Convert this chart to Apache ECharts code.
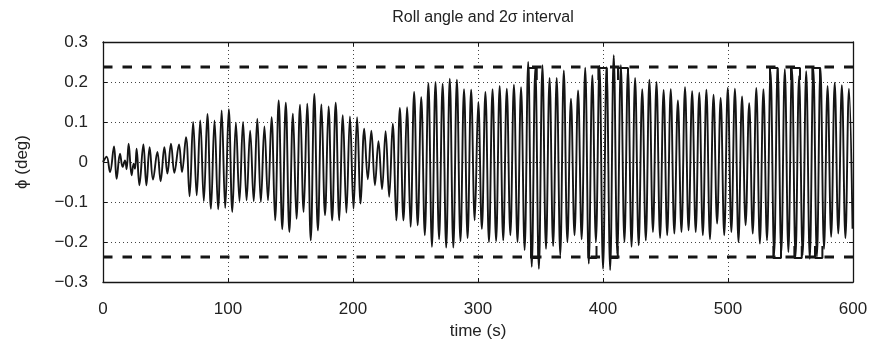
<!DOCTYPE html>
<html>
<head>
<meta charset="utf-8">
<script src="https://cdn.jsdelivr.net/npm/echarts@6/dist/echarts.min.js"></script>
<style>
  html, body { margin: 0; padding: 0; background: #fff; }
  #chart { width: 874px; height: 351px; }
</style>
</head>
<body>
<div id="chart"></div>
<script>
// start-up wiggles (time, value)
const earlyT = [0, 2.9, 5.6, 8.8, 10.9, 13.6, 15.7, 17.6, 18.9, 20.5, 22.9, 24.5, 25.6, 26.9, 29.1,
  32.3, 34.7, 37.3, 40.0, 43.5, 46.1, 49.1, 51.5, 54.4, 57.1, 60.8, 63.2];
const earlyV = [0, 0.013, -0.025, 0.039, -0.042, 0.021, -0.012, 0.004, -0.018, 0.046, -0.033, -0.004, -0.017, 0.033, -0.058,
  0.044, -0.058, 0.037, -0.044, 0.025, -0.048, 0.037, -0.029, 0.046, -0.027, 0.044, -0.025];

// regular roll oscillation: one peak and one trough per period
const firstPeak = 66.4;
const period = 5.703;
const peaks = [
  0.062, 0.100, 0.104, 0.120, 0.104, 0.129, 0.132, 0.098, 0.100, 0.078,
  0.108, 0.089, 0.112, 0.154, 0.148, 0.121, 0.143, 0.146, 0.170, 0.144,
  0.139, 0.148, 0.117, 0.114, 0.112, 0.083, 0.078, 0.052, 0.077, 0.096,
  0.135, 0.137, 0.175, 0.162, 0.197, 0.200, 0.196, 0.208, 0.206, 0.182,
  0.181, 0.150, 0.175, 0.182, 0.190, 0.183, 0.193, 0.187, 0.250, 0.237,
  0.242, 0.210, 0.210, 0.229, 0.158, 0.179, 0.236, 0.217, 0.240, 0.237,
  0.267, 0.242, 0.233, 0.210, 0.182, 0.206, 0.200, 0.180, 0.182, 0.154,
  0.187, 0.177, 0.173, 0.181, 0.168, 0.160, 0.185, 0.183, 0.164, 0.147,
  0.185, 0.182, 0.227, 0.236, 0.232, 0.235, 0.215, 0.227, 0.235, 0.235,
  0.190, 0.198, 0.192, 0.183
];
const troughs = [
  -0.086, -0.083, -0.098, -0.117, -0.118, -0.115, -0.125, -0.098, -0.096, -0.098,
  -0.100, -0.096, -0.146, -0.168, -0.175, -0.142, -0.125, -0.196, -0.171, -0.133,
  -0.146, -0.146, -0.127, -0.117, -0.104, -0.043, -0.058, -0.068, -0.087, -0.146,
  -0.146, -0.162, -0.158, -0.183, -0.212, -0.193, -0.214, -0.214, -0.198, -0.190,
  -0.146, -0.167, -0.200, -0.198, -0.196, -0.183, -0.200, -0.220, -0.262, -0.267,
  -0.217, -0.210, -0.233, -0.200, -0.183, -0.193, -0.254, -0.200, -0.267, -0.270,
  -0.229, -0.200, -0.212, -0.208, -0.196, -0.175, -0.190, -0.183, -0.179, -0.175,
  -0.171, -0.175, -0.183, -0.193, -0.154, -0.183, -0.175, -0.200, -0.158, -0.179,
  -0.204, -0.196, -0.233, -0.229, -0.225, -0.237, -0.233, -0.242, -0.237, -0.217,
  -0.187, -0.179, -0.190, -0.167
];

// 2 sigma bound
const sigma2 = 0.2375;

// saturation brackets [start, end] in seconds
const clipTop = [[340.3, 347.0], [396.3, 403.0], [412.0, 420.0], [533.6, 539.7], [550.4, 557.6], [567.5, 573.6]];
const clipBottom = [[342.4, 348.3], [388.3, 394.8], [405.6, 411.8], [536.3, 542.4], [553.1, 559.0], [569.6, 575.5]];
const clipTopLevel = 0.235;
const clipBottomLevel = -0.24;

const signal = earlyT.map((t, i) => [t, earlyV[i]]);
peaks.forEach((p, k) => {
  const t = firstPeak + k * period;
  signal.push([t, p]);
  signal.push([t + period / 2, troughs[k]]);
});

const black = '#151515';
const font = '"Liberation Sans", Arial, Helvetica, sans-serif';

const bracketSeries = [];
clipTop.forEach(([a, b]) => bracketSeries.push({
  type: 'line', symbol: 'none', silent: true, z: 4,
  lineStyle: {color: black, width: 2},
  data: [[a, clipTopLevel - 0.03], [a, clipTopLevel], [b, clipTopLevel], [b, clipTopLevel - 0.03]]
}));
clipBottom.forEach(([a, b]) => bracketSeries.push({
  type: 'line', symbol: 'none', silent: true, z: 4,
  lineStyle: {color: black, width: 2},
  data: [[a, clipBottomLevel + 0.03], [a, clipBottomLevel], [b, clipBottomLevel], [b, clipBottomLevel + 0.03]]
}));

const myChart = echarts.init(document.getElementById('chart'), null, {renderer: 'canvas'});
myChart.setOption({
  animation: false,
  backgroundColor: '#fff',
  title: {
    text: 'Roll angle and 2σ interval',
    left: 478, top: 5, textAlign: 'center',
    textStyle: {fontFamily: font, fontSize: 16, fontWeight: 'normal', color: '#222'}
  },
  grid: {left: 103, right: 21, top: 42, bottom: 69},
  xAxis: [
    {
      type: 'value', min: 0, max: 600, interval: 100,
      name: 'time (s)', nameLocation: 'middle', nameGap: 40,
      nameTextStyle: {fontFamily: font, fontSize: 17, color: '#222'},
      axisLine: {show: true, onZero: false, lineStyle: {color: black, width: 1.3}},
      axisTick: {show: true, inside: true, length: 4, lineStyle: {color: black}},
      axisLabel: {fontFamily: font, fontSize: 17, color: '#222', margin: 19},
      splitLine: {show: true, lineStyle: {color: '#444', type: [1, 3], width: 1}}
    },
    {
      type: 'value', min: 0, max: 600, interval: 100, position: 'top',
      axisLine: {show: true, onZero: false, lineStyle: {color: black, width: 1.3}},
      axisTick: {show: true, inside: true, length: 4, lineStyle: {color: black}},
      axisLabel: {show: false},
      splitLine: {show: false}
    }
  ],
  yAxis: [
    {
      type: 'value', min: -0.3, max: 0.3, interval: 0.1,
      name: 'ϕ (deg)', nameLocation: 'middle', nameGap: 72,
      nameTextStyle: {fontFamily: font, fontSize: 17, color: '#222'},
      axisLine: {show: true, onZero: false, lineStyle: {color: black, width: 1.3}},
      axisTick: {show: true, inside: true, length: 4, lineStyle: {color: black}},
      axisLabel: {
        fontFamily: font, fontSize: 17, color: '#222', margin: 15,
        formatter: v => {
          const r = Math.round(v * 10) / 10;
          if (r === 0) return '0';
          return (r < 0 ? '\u2212' : '') + Math.abs(r).toFixed(1);
        }
      },
      splitLine: {show: true, lineStyle: {color: '#444', type: [1, 3], width: 1}}
    },
    {
      type: 'value', min: -0.3, max: 0.3, interval: 0.1, position: 'right',
      axisLine: {show: true, onZero: false, lineStyle: {color: black, width: 1.3}},
      axisTick: {show: true, inside: true, length: 4, lineStyle: {color: black}},
      axisLabel: {show: false},
      splitLine: {show: false}
    }
  ],
  series: [
    {
      type: 'line', symbol: 'none', smooth: 0.4, z: 3,
      lineStyle: {color: black, width: 1.9},
      data: signal
    },
    {
      type: 'line', symbol: 'none', silent: true, z: 5,
      lineStyle: {color: black, width: 3, type: [9.5, 10]},
      data: [[0, sigma2], [600, sigma2]]
    },
    {
      type: 'line', symbol: 'none', silent: true, z: 5,
      lineStyle: {color: black, width: 3, type: [9.5, 10]},
      data: [[0, -sigma2], [600, -sigma2]]
    }
  ].concat(bracketSeries)
});
</script>
</body>
</html>
